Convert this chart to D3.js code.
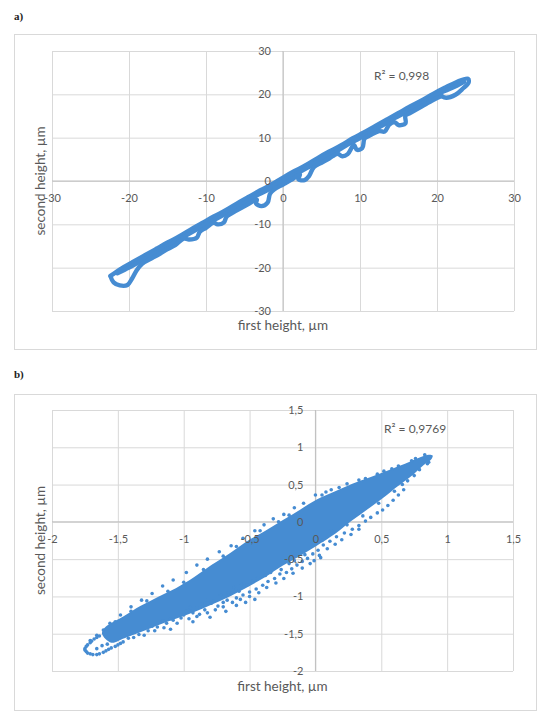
<!DOCTYPE html>
<html>
<head>
<meta charset="utf-8">
<script src="https://cdn.jsdelivr.net/npm/d3@7"></script>
<style>
  body { margin: 0; background: #fff; }
  svg { display: block; }
</style>
</head>
<body>
<svg id="chart" width="554" height="716"></svg>
<script>
// ---- panel a) : first vs second height, connected trace (µm)
const ticksA = [-30, -20, -10, 0, 10, 20, 30];
const tickLabelsA = ["-30", "-20", "-10", "0", "10", "20", "30"];
const r2LabelA = "R² = 0,998";

// upper pass, from the bottom-left tip to the top-right end and its loop
const upperA = [[-22.4,-21.9],[-21,-20.2],[-19.5,-18.7],[-18,-17.2],[-16.5,-15.7],[-15,-14.2],[-13.5,-12.8],
  [-12,-11.2],[-10.5,-9.7],[-9,-8.2],[-7.5,-6.8],[-6,-5.2],[-4.5,-3.7],[-3,-2.2],[-1.5,-0.8],[0,0.8],
  [1.5,2.3],[3,3.7],[4.5,5.3],[6,6.8],[7.5,8.2],[9,9.8],[10.5,11.2],[12,12.7],[13.5,14.2],[15,15.7],
  [16.5,17.2],[18,18.6],[19.5,20.1],[21,21.5],[22.5,22.8],[24,23.6],[24.1,22.7],[23.4,21.4],[22.4,19.9],
  [21.2,19.2],[20.6,19.6]];

// return pass with the small dips under the band, ending in the bottom-left loop
const lowerA = [[20.6,19.6],[19.5,18.7],[18,17.2],[16.5,15.7],[15.9,15.1],[15.9,13.3],[15.0,12.9],[14.5,13.6],
  [13.8,13.0],[13.2,11.4],[12.5,11.5],[11.5,10.7],[10.6,9.8],[10.3,7.6],[9.6,7.2],[9.2,8.3],[8.4,6.2],
  [7.7,5.7],[7.1,6.3],[6.0,5.2],[5.0,4.2],[4.0,3.2],[3.4,1.2],[2.8,0.2],[2.0,0.4],[2.2,1.5],[1.0,0.2],
  [0,-0.8],[-1.2,-2.0],[-1.7,-3.0],[-2.0,-5.0],[-2.8,-5.8],[-3.5,-5.2],[-3.4,-4.3],[-4.5,-5.3],[-6.0,-6.8],
  [-7.3,-8.2],[-7.7,-9.6],[-8.5,-10.0],[-9.0,-9.6],[-10.0,-10.8],[-10.8,-11.7],[-11.2,-13.1],[-12.2,-13.5],
  [-12.9,-13.3],[-14.0,-14.8],[-15.0,-15.7],[-16.0,-16.8],[-17.0,-17.8],[-18.3,-19.1],[-19.0,-20.6],
  [-19.6,-22.5],[-20.2,-24.0],[-21.2,-24.1],[-22.0,-23.4],[-22.4,-22.0]];

// middle pass
const middleA = [[-21.5,-21.3],[-20,-20.0],[-18.5,-18.5],[-17,-17.1],[-15.5,-15.5],[-14,-14.0],[-12.5,-12.5],
  [-11,-11.0],[-9.5,-9.5],[-8,-8.1],[-6.5,-6.5],[-5,-5.1],[-3.5,-3.4],[-2,-2.1],[-0.5,-0.4],[1,1.0],
  [2.5,2.4],[4,3.9],[5.5,5.5],[7,6.9],[8.5,8.5],[10,9.9],[11.5,11.4],[13,12.9],[14.5,14.5],[16,15.9],
  [17.5,17.4],[19,18.9],[20.5,20.4],[22,21.5],[23.5,22.9]];

// ---- panel b) : first vs second height, scatter (µm)
const ticksB = [-2, -1.5, -1, -0.5, 0, 0.5, 1, 1.5];
const tickLabelsB = ["-2", "-1,5", "-1", "-0,5", "0", "0,5", "1", "1,5"];
const r2LabelB = "R² = 0,9769";

// outline of the solid (overplotted) core of the cloud
const coreB = [[-1.62,-1.50],[-1.6,-1.42],[-1.45,-1.26],[-1.33,-1.13],[-1.2,-1.01],[-1.06,-0.89],[-0.92,-0.74],
  [-0.79,-0.58],[-0.65,-0.42],[-0.52,-0.26],[-0.38,-0.12],[-0.25,0.02],[-0.12,0.16],[0.01,0.30],[0.15,0.41],
  [0.28,0.51],[0.42,0.60],[0.55,0.69],[0.68,0.78],[0.80,0.87],[0.86,0.90],[0.89,0.89],
  [0.88,0.84],[0.82,0.76],[0.72,0.60],[0.62,0.47],[0.55,0.37],[0.42,0.20],[0.28,0.02],[0.15,-0.16],
  [0.01,-0.32],[-0.12,-0.46],[-0.25,-0.59],[-0.38,-0.74],[-0.52,-0.88],[-0.65,-1.00],[-0.79,-1.11],
  [-0.92,-1.21],[-1.06,-1.30],[-1.2,-1.39],[-1.33,-1.48],[-1.45,-1.56],[-1.55,-1.62]];

// dotted row above the core
const upperDotsB = [[-1.71,-1.59],[-1.66,-1.52],[-1.61,-1.45],[-1.56,-1.36],[-1.48,-1.25],[-1.40,-1.14],
  [-1.32,-1.05],[-1.24,-0.96],[-1.16,-0.86],[-1.08,-0.78],[-0.98,-0.68],[-0.90,-0.58],[-0.82,-0.50],
  [-0.73,-0.40],[-0.64,-0.32],[-0.55,-0.22],[-0.46,-0.12],[-0.39,-0.04],[-0.32,0.04],[-0.24,0.10],
  [-0.16,0.19],[-0.09,0.25],[0.0,0.36],[0.08,0.40]];

// points fraying the edge of the core
const edgeDotsB = [[0.05,0.36],[0.12,0.43],[0.18,0.46],[0.24,0.51],[0.33,0.56],[0.38,0.58],[0.47,0.64],
  [0.52,0.68],[0.58,0.71],[0.63,0.75],[0.73,0.82],[0.76,0.85],[0.83,0.90],[-0.2,0.09],[-0.28,0.0],
  [-0.42,-0.12],[-0.6,-0.33],[-0.7,-0.46],[-0.85,-0.64],[-1.0,-0.81],[-1.12,-0.93],[-1.28,-1.06],
  [-1.4,-1.2],[-1.52,-1.34],[0.86,0.80],[0.79,0.70],[0.70,0.55],[0.6,0.41],[0.48,0.25],[0.36,0.08]];

// scattered points below the core
const lowerDotsB = [[0.85,0.78],[0.75,0.62],[0.66,0.50],[0.67,0.43],[0.63,0.36],[0.59,0.29],[0.55,0.22],
  [0.51,0.16],[0.47,0.12],[0.42,0.06],[0.38,0.01],[0.33,-0.05],[0.28,-0.10],[0.24,-0.04],[0.22,-0.15],
  [0.16,-0.20],[0.12,-0.12],[0.11,-0.26],[0.06,-0.31],[0.05,-0.25],[0.04,-0.48],[0.02,-0.38],[-0.01,-0.52],
  [-0.02,-0.43],[-0.06,-0.49],[-0.08,-0.44],[-0.10,-0.53],[-0.14,-0.58],[-0.16,-0.52],[-0.18,-0.63],
  [-0.20,-0.56],[-0.22,-0.68],[-0.26,-0.64],[-0.27,-0.70],[-0.31,-0.76],[-0.34,-0.68],[-0.36,-0.80],
  [-0.38,-0.72],[-0.40,-0.85],[-0.44,-0.76],[-0.45,-0.90],[-0.48,-0.80],[-0.50,-0.94],[-0.52,-0.85],
  [-0.55,-0.98],[-0.56,-0.84],[-0.58,-0.93],[-0.60,-1.02],[-0.62,-0.88],[-0.64,-0.96],[-0.66,-0.95],
  [-0.67,-1.05],[-0.70,-1.08],[-0.72,-0.98],[-0.74,-1.13],[-0.77,-1.02],[-0.79,-1.09],[-0.82,-1.05],
  [-0.84,-1.18],[-0.86,-1.10],[-0.88,-1.24],[-0.90,-1.16],[-0.93,-1.22],[-0.95,-1.15],[-0.98,-1.20],
  [-1.0,-1.25],[-1.02,-1.29],[-1.08,-1.32],[-1.10,-1.30],[-1.13,-1.36],[-1.16,-1.33],[-1.20,-1.41],
  [-1.24,-1.40],[-1.27,-1.46],[-1.34,-1.51],[-1.42,-1.56],
  [-1.38,-1.55],[-1.3,-1.52],[-1.22,-1.46],[-1.15,-1.42],[-1.05,-1.36],[-0.96,-1.30],[-0.9,-1.27],
  [-0.82,-1.22],[-0.76,-1.18],[-0.7,-1.14],[-0.63,-1.08],[-0.57,-1.04],[-0.5,-1.0],[-0.43,-0.95],
  [-0.37,-0.88],[-0.3,-0.82],[-0.24,-0.76],[-0.17,-0.69],[-0.1,-0.62],[-0.04,-0.56],[0.03,-0.45],
  [0.09,-0.36],[0.15,-0.30],[0.2,-0.24],[0.27,-0.17],[0.33,-0.10],[-0.68,-1.2],[-0.6,-1.12],[-0.53,-1.08],
  [-0.46,-1.04],[-0.8,-1.28],[-0.93,-1.34],[-1.1,-1.44]];

// open ring at the bottom-left end of the cloud
const ringB = [[-1.64,-1.53],[-1.66,-1.55],[-1.68,-1.57],[-1.70,-1.60],[-1.71,-1.62],[-1.73,-1.65],
  [-1.74,-1.67],[-1.75,-1.70],[-1.75,-1.72],[-1.74,-1.74],[-1.73,-1.76],[-1.71,-1.77],[-1.69,-1.78],
  [-1.66,-1.78],[-1.64,-1.77],[-1.61,-1.75],[-1.59,-1.73],[-1.57,-1.71],[-1.55,-1.69],[-1.52,-1.67],
  [-1.50,-1.65],[-1.48,-1.63],[-1.46,-1.61],[-1.66,-1.70],[-1.62,-1.66],[-1.58,-1.64]];

const xTitle = "first height, µm";
const yTitle = "second height, µm";

const blue = "#468cd2";
const textGrey = "#595959";
const font = "Lato, 'Noto Sans', sans-serif";

const svg = d3.select("#chart");

// Draws one Excel-like scatter panel: frame, grid, centred axes and labels.
function panel(cfg) {
  let g = svg.append("g");
  let x = d3.scaleLinear().domain(cfg.domain).range([cfg.left, cfg.right]);
  let y = d3.scaleLinear().domain(cfg.domain).range([cfg.bottom, cfg.top]);

  g.append("text")
    .text(cfg.letter)
    .attr("x", 14).attr("y", cfg.letterY)
    .attr("font-family", "'Liberation Serif', serif")
    .attr("font-size", 11)
    .attr("font-weight", "bold")
    .attr("fill", "#222");

  g.append("rect")
    .attr("x", 14.5).attr("y", cfg.frameTop + 0.5)
    .attr("width", 522).attr("height", cfg.frameBottom - cfg.frameTop)
    .attr("fill", "#fff")
    .attr("stroke", "#d9d9d9");

  // grid
  g.append("g")
    .attr("transform", "translate(0," + cfg.bottom + ")")
    .call(d3.axisBottom(x).tickValues(cfg.ticks).tickSize(-(cfg.bottom - cfg.top)).tickFormat(""))
    .call(a => a.select(".domain").remove())
    .selectAll("line").attr("stroke", "#d9d9d9");
  g.append("g")
    .attr("transform", "translate(" + cfg.left + ",0)")
    .call(d3.axisLeft(y).tickValues(cfg.ticks).tickSize(-(cfg.right - cfg.left)).tickFormat(""))
    .call(a => a.select(".domain").remove())
    .selectAll("line").attr("stroke", "#d9d9d9");

  // zero axes
  g.append("line")
    .attr("x1", cfg.left).attr("x2", cfg.right)
    .attr("y1", y(0)).attr("y2", y(0))
    .attr("stroke", "#bfbfbf");
  g.append("line")
    .attr("x1", x(0)).attr("x2", x(0))
    .attr("y1", cfg.top).attr("y2", cfg.bottom)
    .attr("stroke", "#bfbfbf");

  let data = g.append("g");
  cfg.draw(data, x, y);

  // tick labels sit on the zero lines
  let xAxis = g.append("g")
    .attr("transform", "translate(0," + y(0) + ")")
    .call(d3.axisBottom(x).tickValues(cfg.ticks).tickSize(0).tickPadding(13)
      .tickFormat((d, i) => cfg.labels[i]));
  let yAxis = g.append("g")
    .attr("transform", "translate(" + x(0) + ",0)")
    .call(d3.axisLeft(y).tickValues(cfg.ticks).tickSize(0).tickPadding(12)
      .tickFormat((d, i) => cfg.labels[i]));
  [xAxis, yAxis].forEach(a => {
    a.select(".domain").remove();
    a.attr("font-family", font).attr("font-size", 11);
    a.selectAll("text").attr("fill", textGrey);
  });

  g.append("text")
    .text(cfg.r2)
    .attr("x", cfg.r2X).attr("y", cfg.r2Y)
    .attr("font-family", font).attr("font-size", 12)
    .attr("fill", textGrey);

  g.append("text")
    .text(xTitle)
    .attr("x", (cfg.left + cfg.right) / 2).attr("y", cfg.xTitleY)
    .attr("text-anchor", "middle")
    .attr("font-family", font).attr("font-size", 13.5)
    .attr("fill", textGrey);

  g.append("text")
    .text(yTitle)
    .attr("transform", "translate(45," + (cfg.top + cfg.bottom) / 2 + ") rotate(-90)")
    .attr("text-anchor", "middle")
    .attr("font-family", font).attr("font-size", 13.5)
    .attr("fill", textGrey);
}

panel({
  letter: "a)", letterY: 20,
  frameTop: 34, frameBottom: 349,
  left: 52, right: 514, top: 51, bottom: 311,
  domain: [-30, 30], ticks: ticksA, labels: tickLabelsA,
  r2: r2LabelA, r2X: 374, r2Y: 80, xTitleY: 330,
  draw: function(g, x, y) {
    let line = d3.line().x(d => x(d[0])).y(d => y(d[1])).curve(d3.curveCatmullRom);
    [upperA, middleA, lowerA].forEach(trace => {
      g.append("path")
        .attr("d", line(trace))
        .attr("fill", "none")
        .attr("stroke", blue)
        .attr("stroke-width", 4.4)
        .attr("stroke-linejoin", "round")
        .attr("stroke-linecap", "round");
    });
  }
});

panel({
  letter: "b)", letterY: 378,
  frameTop: 394, frameBottom: 710,
  left: 52, right: 513, top: 410, bottom: 671,
  domain: [-2, 1.5], ticks: ticksB, labels: tickLabelsB,
  r2: r2LabelB, r2X: 384, r2Y: 433, xTitleY: 691,
  draw: function(g, x, y) {
    let outline = d3.line().x(d => x(d[0])).y(d => y(d[1])).curve(d3.curveCatmullRomClosed);
    g.append("path")
      .attr("d", outline(coreB))
      .attr("fill", blue);
    g.selectAll("circle")
      .data(upperDotsB.concat(edgeDotsB, lowerDotsB, ringB))
      .join("circle")
      .attr("cx", d => x(d[0]))
      .attr("cy", d => y(d[1]))
      .attr("r", 1.8)
      .attr("fill", blue);
  }
});
</script>
</body>
</html>
